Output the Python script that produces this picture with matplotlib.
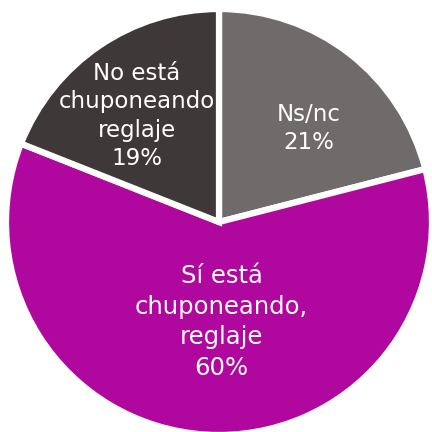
import numpy as np
import matplotlib.pyplot as plt

labels = ["Ns/nc", "Sí está\nchuponeando,\nreglaje", "No está\nchuponeando\nreglaje"]
values = [21, 60, 19]
colors = ["#6f6b6a", "#b0079e", "#3e3839"]

fig = plt.figure(figsize=(4.32, 4.32), dpi=100)
ax = fig.add_axes([0, 0, 1, 1])

wedges, _ = ax.pie(values, colors=colors, startangle=90, counterclock=False,
                   radius=1.0, wedgeprops=dict(edgecolor="white", linewidth=4.5))

# label placement (distance from centre, angle tweak in degrees, size, spacing)
lab_dist = [0.61, 0.47, 0.63]
lab_rot = [-6, 5, 3.5]
lab_size = [16.5, 17.5, 16.5]
lab_space = [1.3, 1.35, 1.3]
for w, lab, v, d, dr, fs, ls in zip(wedges, labels, values, lab_dist, lab_rot, lab_size, lab_space):
    ang = np.deg2rad((w.theta1 + w.theta2) / 2 + dr)
    ax.text(d * np.cos(ang), d * np.sin(ang), f"{lab}\n{v}%", ha="center", va="center",
            color="white", fontsize=fs, linespacing=ls, family="DejaVu Sans")

ax.set_xlim(-219 / 213, 213 / 213)
ax.set_ylim(-210 / 213, 222 / 213)
ax.set_aspect("equal")
ax.axis("off")

fig.savefig("out.png", dpi=100)
